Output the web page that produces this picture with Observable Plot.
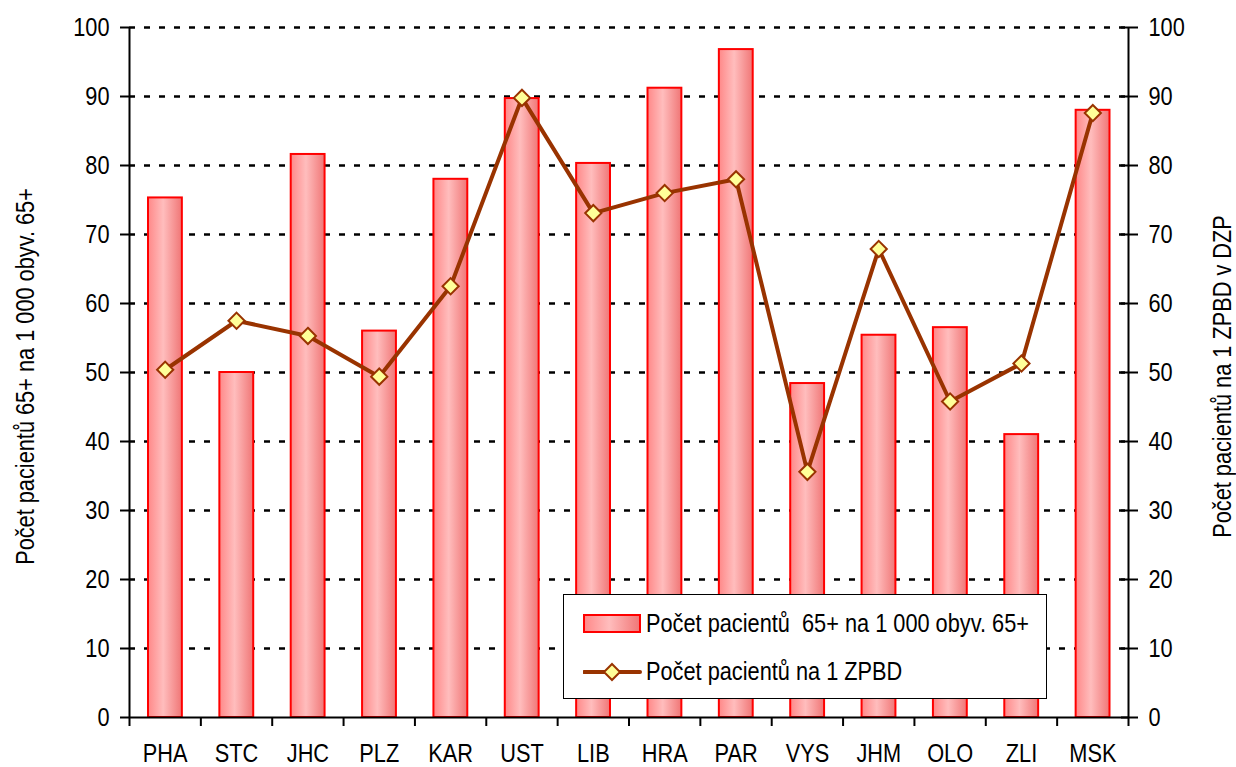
<!DOCTYPE html>
<html>
<head>
<meta charset="utf-8">
<script src="https://cdn.jsdelivr.net/npm/d3@7"></script>
<script src="https://cdn.jsdelivr.net/npm/@observablehq/plot@0.6"></script>
<style>
  body { margin: 0; background: #fff; }
  #wrap { position: relative; width: 1236px; height: 767px; font-family: "Liberation Sans", Arial, sans-serif; }
  #legend { position: absolute; left: 563px; top: 594px; width: 482px; height: 103px; border: 1.5px solid #000; background: #fff; }
  .row { position: absolute; left: 19px; display: flex; align-items: center; font-size: 25px; color: #000; white-space: pre; }
  .row svg { margin-right: 3px; flex: none; }
  .row span { display: inline-block; transform: scaleX(0.87); transform-origin: 0 50%; }
</style>
</head>
<body>
<div id="wrap"></div>
<script>
const categories = ["PHA","STC","JHC","PLZ","KAR","UST","LIB","HRA","PAR","VYS","JHM","OLO","ZLI","MSK"];
const barValues  = [75.3, 50.0, 81.6, 56.0, 78.0, 89.7, 80.3, 91.2, 96.8, 48.4, 55.4, 56.5, 41.0, 88.0];
const lineValues = [50.4, 57.5, 55.3, 49.4, 62.5, 89.8, 73.1, 76.0, 78.0, 35.6, 67.9, 45.8, 51.3, 87.6];
const yTicks = [0,10,20,30,40,50,60,70,80,90,100];
const barLabel = "Počet pacientů  65+ na 1 000 obyv. 65+";
const lineLabel = "Počet pacientů na 1 ZPBD";
const leftTitle = "Počet pacientů 65+ na 1 000 obyv. 65+";
const rightTitle = "Počet pacientů na 1 ZPBD v DZP";

const data = categories.map((c, i) => ({cat: c, i, bar: barValues[i], line: lineValues[i]}));
const n = categories.length;
const FONT = '"Liberation Sans", Arial, sans-serif';

const chart = Plot.plot({
  width: 1236,
  height: 767,
  marginLeft: 129,
  marginRight: 108,
  marginTop: 27,
  marginBottom: 50,
  style: {fontFamily: FONT, fontSize: "25px", color: "#000", background: "#fff"},
  x: {domain: [0, n], axis: null},
  y: {domain: [0, 100], axis: null},
  marks: [
    Plot.ruleY(yTicks.filter(d => d > 0), {stroke: "#000", strokeWidth: 2.5, strokeDasharray: "6,9"}),
    Plot.rectY(data, {x1: "i", x2: d => d.i + 1, y1: 0, y2: "bar", insetLeft: 19, insetRight: 18.5,
      fill: "url(#barGrad)", stroke: "#ff0000", strokeWidth: 2}),
    Plot.ruleX([0, n], {stroke: "#000", strokeWidth: 2}),
    Plot.ruleY([0], {stroke: "#000", strokeWidth: 2}),
    Plot.axisX({ticks: d3.range(n + 1), tickSize: 9, tickFormat: () => "", strokeWidth: 2, label: null}),
    Plot.axisX({ticks: d3.range(n).map(i => i + 0.5), tickSize: 0, tickPadding: 27,
      tickFormat: v => categories[Math.floor(v)], fontSize: 25, label: null}),
    Plot.axisY({anchor: "left", ticks: yTicks, tickSize: 9, tickPadding: 11, strokeWidth: 2, fontSize: 25, label: null}),
    Plot.axisY({anchor: "right", ticks: yTicks, tickSize: 9, tickPadding: 11, strokeWidth: 2, fontSize: 25, label: null}),
    Plot.axisY({anchor: "right", ticks: yTicks, tickSize: -8, tickFormat: () => "", strokeWidth: 2, label: null}),
    Plot.line(data, {x: d => d.i + 0.5, y: "line", stroke: "#993300", strokeWidth: 4}),
    Plot.dot(data, {x: d => d.i + 0.5, y: "line", symbol: "diamond2", r: 7.3, fill: "#ffff99", stroke: "#993300", strokeWidth: 2}),
    Plot.text([leftTitle], {frameAnchor: "left", textAnchor: "middle", dx: -104, dy: 4, rotate: -90, fontSize: 25}),
    Plot.text([rightTitle], {frameAnchor: "right", textAnchor: "middle", dx: 94, dy: 4, rotate: -90, fontSize: 25})
  ]
});

const svg = d3.select(chart);
const defs = svg.insert("defs", ":first-child");
const g = defs.append("linearGradient").attr("id", "barGrad").attr("x1", "0%").attr("x2", "100%").attr("y1", "0%").attr("y2", "0%");
g.append("stop").attr("offset", "0%").attr("stop-color", "#ff8888");
g.append("stop").attr("offset", "45%").attr("stop-color", "#ffbdbd");
g.append("stop").attr("offset", "100%").attr("stop-color", "#f07676");

// emulate a narrow sans face: compress glyphs horizontally around each text's anchor
svg.selectAll("text").each(function() {
  const t = d3.select(this);
  const tr = t.attr("transform") || "";
  const x = parseFloat(t.attr("x")) || 0;
  t.attr("transform", `${tr} translate(${x},0) scale(0.87,1) translate(${-x},0)`);
});

const wrap = document.getElementById("wrap");
wrap.appendChild(chart);

const legend = document.createElement("div");
legend.id = "legend";
legend.innerHTML = `
  <div class="row" style="top:14px">
    <svg width="60" height="24"><defs><linearGradient id="legGrad" x1="0%" x2="100%"><stop offset="0%" stop-color="#ff8888"/><stop offset="45%" stop-color="#ffbdbd"/><stop offset="100%" stop-color="#f07676"/></linearGradient></defs>
    <rect x="1" y="3" width="56" height="17" fill="url(#legGrad)" stroke="#ff0000" stroke-width="2"/></svg>
    <span>${barLabel}</span>
  </div>
  <div class="row" style="top:62px">
    <svg width="60" height="24"><line x1="1" y1="12" x2="57" y2="12" stroke="#993300" stroke-width="4" stroke-linecap="round"/>
    <path d="M29,4 L37,12 L29,20 L21,12 Z" fill="#ffff99" stroke="#993300" stroke-width="2"/></svg>
    <span>${lineLabel}</span>
  </div>`;
wrap.appendChild(legend);
</script>
</body>
</html>
